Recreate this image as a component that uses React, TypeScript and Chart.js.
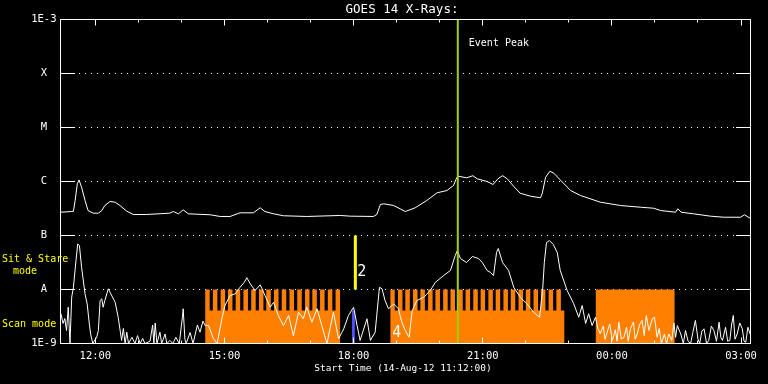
import { useEffect, useRef } from "react";
import { Chart, registerables } from "chart.js";

Chart.register(...registerables);

// ---------- texts ----------
const TITLE = "GOES 14 X-Rays:";
const X_AXIS_TITLE = "Start Time (14-Aug-12 11:12:00)";
const EVENT_LABEL = "Event Peak";
const SIT_STARE_LABEL = ["Sit & Stare", "mode"];
const SCAN_LABEL = "Scan mode";
const MARK_2 = "2";
const MARK_4 = "4";

// ---------- axes ----------
const X_MIN = 11.19; // hours since 14-Aug-12 00:00
const X_MAX = 27.22;
const xTickValues = [12, 15, 18, 21, 24, 27];
const xTickLabels = ["12:00", "15:00", "18:00", "21:00", "00:00", "03:00"];
const hourTickValues = [12, 13, 14, 15, 16, 17, 18, 19, 20, 21, 22, 23, 24, 25, 26, 27];
const yTickValues = [1e-9, 1e-8, 1e-7, 1e-6, 1e-5, 1e-4, 1e-3];
const yTickLabels = ["1E-9", "A", "B", "C", "M", "X", "1E-3"];

// ---------- GOES long channel (1-8 A) ----------
const longTimes = [
  11.2, 11.45, 11.49, 11.53, 11.58, 11.62, 11.68, 11.76, 11.83, 11.95, 12.07, 12.15, 12.22,
  12.34, 12.46, 12.57, 12.73, 12.88, 13.19, 13.73, 13.81, 13.93, 14.04, 14.16, 14.67, 14.9,
  15.13, 15.36, 15.67, 15.83, 15.94, 16.14, 16.37, 16.91, 17.69, 17.92, 18.46, 18.54, 18.62,
  18.7, 18.93, 19.08, 19.2, 19.43, 19.7, 19.94, 20.17, 20.32, 20.4, 20.44, 20.63, 20.77, 20.87,
  21.1, 21.24, 21.35, 21.46, 21.57, 21.72, 21.87, 22.11, 22.34, 22.38, 22.46, 22.56, 22.65,
  22.8, 23.04, 23.27, 23.73, 24.2, 24.66, 24.97, 25.13, 25.48, 25.53, 25.61, 25.9, 26.29,
  26.6, 26.99, 27.08, 27.21,
];
const longFlux = [
  2.7e-7, 2.78e-7, 2.8e-7, 4.45e-7, 9.07e-7, 1.07e-6, 7.84e-7, 4.45e-7, 2.9e-7, 2.59e-7,
  2.59e-7, 2.9e-7, 3.59e-7, 4.26e-7, 4.14e-7, 3.59e-7, 2.82e-7, 2.45e-7, 2.45e-7, 2.59e-7,
  2.78e-7, 2.52e-7, 2.99e-7, 2.52e-7, 2.42e-7, 2.25e-7, 2.25e-7, 2.63e-7, 2.63e-7, 3.26e-7,
  2.78e-7, 2.52e-7, 2.32e-7, 2.25e-7, 2.35e-7, 2.28e-7, 2.25e-7, 2.45e-7, 3.75e-7, 3.86e-7,
  3.59e-7, 3.12e-7, 2.78e-7, 3.26e-7, 4.45e-7, 6.18e-7, 6.81e-7, 8.43e-7, 1.2e-6, 1.25e-6,
  1.17e-6, 1.28e-6, 1.12e-6, 1.0e-6, 8.8e-7, 1.12e-6, 1.28e-6, 1.12e-6, 8.08e-7, 6.07e-7,
  5.34e-7, 4.99e-7, 5.92e-7, 1.2e-6, 1.55e-6, 1.43e-6, 1.07e-6, 6.81e-7, 5.51e-7, 4.14e-7,
  3.59e-7, 3.34e-7, 3.2e-7, 2.9e-7, 2.7e-7, 3.12e-7, 2.7e-7, 2.52e-7, 2.28e-7, 2.18e-7,
  2.18e-7, 2.42e-7, 2.09e-7,
];

// ---------- GOES short channel (0.5-4 A) ----------
const shortTimes = [
  // 11:12 - 12:35
  11.2, 11.25, 11.29, 11.33, 11.37, 11.41, 11.45, 11.49, 11.55, 11.59, 11.63, 11.68, 11.76,
  11.81, 11.86, 11.89, 11.94, 12.03, 12.07, 12.11, 12.15, 12.18, 12.22, 12.3, 12.34, 12.46, 12.53,
  // 12:36 - 14:30
  12.61, 12.65, 12.69, 12.73, 12.77, 12.85, 12.92, 12.98, 13.04, 13.1, 13.15, 13.27, 13.33,
  13.36, 13.39, 13.43, 13.5, 13.54, 13.62, 13.66, 13.73, 13.8, 13.87, 13.95, 14.02, 14.04,
  14.08, 14.11, 14.2, 14.27, 14.37, 14.43, 14.5,
  // 14:33 - 23:40
  14.55, 14.63, 14.74, 14.83, 14.94, 15.01, 15.13, 15.25, 15.36, 15.46,
  15.52, 15.6, 15.71, 15.83, 15.94, 16.06, 16.14, 16.25, 16.37, 16.49,
  16.6, 16.72, 16.83, 16.91, 17.03, 17.15, 17.26, 17.38, 17.53, 17.65,
  17.77, 17.88, 18.0, 18.08, 18.15, 18.31, 18.39, 18.5, 18.6, 18.66,
  18.73, 18.81, 18.93, 19.04, 19.12, 19.2, 19.29, 19.36, 19.47, 19.63,
  19.78, 19.9, 20.09, 20.25, 20.36, 20.41, 20.48, 20.62, 20.76, 20.9,
  20.99, 21.1, 21.18, 21.25, 21.32, 21.36, 21.46, 21.6, 21.72, 21.87,
  22.03, 22.18, 22.32, 22.39, 22.43, 22.48, 22.55, 22.64, 22.73, 22.8,
  22.96, 23.11, 23.23, 23.31, 23.39, 23.46, 23.54, 23.62, 23.67,
  // 23:44 - 03:13
  23.73, 23.8, 23.84, 23.89, 23.95, 24.01, 24.08, 24.12, 24.16, 24.22,
  24.28, 24.34, 24.38, 24.43, 24.5, 24.54, 24.59, 24.64, 24.7, 24.75,
  24.8, 24.86, 24.94, 24.99, 25.05, 25.1, 25.15, 25.22, 25.27, 25.32,
  25.39, 25.44, 25.48, 25.52, 25.6, 25.66, 25.71, 25.77, 25.83, 25.88,
  25.94, 26.0, 26.04, 26.09, 26.14, 26.2, 26.25, 26.31, 26.37, 26.43,
  26.49, 26.53, 26.57, 26.64, 26.69, 26.74, 26.78, 26.82, 26.86, 26.91,
  26.97, 27.03, 27.07, 27.11, 27.16, 27.21,
];
const shortFlux = [
  // 11:12 - 12:35
  3.55e-9, 2.35e-9, 2.9e-9, 1.74e-9, 4.7e-9, 1.0e-9, 7.2e-9, 1.1e-8, 3.45e-8, 7.0e-8, 6.5e-8,
  2.58e-8, 8.3e-9, 5.4e-9, 2.3e-9, 1.5e-9, 1.0e-9, 1.3e-9, 1.74e-9, 6.25e-9, 6.7e-9, 4.7e-9,
  6.25e-9, 1.03e-8, 8.9e-9, 5.8e-9, 3.07e-9,
  // 12:36 - 14:30
  1.14e-9, 1.9e-9, 1.0e-9, 1.62e-9, 1.0e-9, 1.3e-9, 1.0e-9, 1.4e-9, 1.0e-9, 1.24e-9,
  1.0e-9, 1.1e-9, 2.2e-9, 1.0e-9, 2.4e-9, 1.0e-9, 1.62e-9, 1.0e-9, 1.5e-9, 1.0e-9,
  1.14e-9, 1.0e-9, 1.3e-9, 1.0e-9, 3.0e-9, 4.4e-9, 1.2e-9, 1.0e-9, 1.6e-9, 1.0e-9,
  2.2e-9, 1.62e-9, 2.6e-9,
  // 14:33 - 23:40
  2.15e-9, 2.15e-9, 1.24e-9, 1.0e-9, 2.9e-9, 5.05e-9, 7.75e-9, 8.3e-9, 1.1e-8, 1.36e-8,
  1.65e-8, 1.27e-8, 9.6e-9, 1.22e-8, 7.75e-9, 4.7e-9, 5.8e-9, 3.3e-9, 2.15e-9, 3.3e-9,
  1.4e-9, 3.8e-9, 2.87e-9, 4.7e-9, 2.48e-9, 4.4e-9, 2.15e-9, 1.0e-9, 3.8e-9, 1.22e-9,
  1.87e-9, 3.3e-9, 4.7e-9, 2.15e-9, 1.14e-9, 2.87e-9, 1.14e-9, 1.62e-9, 1.1e-8, 1.03e-8,
  6.25e-9, 4.4e-9, 5.4e-9, 4.4e-9, 2.48e-9, 1.74e-9, 1.3e-9, 4.08e-9, 6.25e-9, 7.2e-9,
  9.6e-9, 1.36e-8, 1.81e-8, 2.25e-8, 4.26e-8, 5.27e-8, 3.75e-8, 3.16e-8, 4.08e-8, 3.75e-8,
  3.16e-8, 2.25e-8, 2.07e-8, 1.81e-8, 4.84e-8, 5.74e-8, 3.16e-8, 2.25e-8, 1.1e-8, 7.2e-9,
  5.4e-9, 3.8e-9, 3.07e-9, 9.6e-9, 3.16e-8, 7.4e-8, 8.05e-8, 6.8e-8, 4.84e-8, 2.25e-8,
  9.6e-9, 5.51e-9, 3.07e-9, 5.05e-9, 2.35e-9, 3.55e-9, 2.15e-9, 3.07e-9, 1.9e-9,
  // 23:44 - 03:13
  1.53e-9, 2.1e-9, 1.2e-9, 1.62e-9, 2.3e-9, 1.14e-9, 1.8e-9, 1.1e-9, 2.48e-9, 1.2e-9,
  1.3e-9, 2.0e-9, 1.1e-9, 1.87e-9, 2.5e-9, 1.2e-9, 1.5e-9, 2.2e-9, 2.67e-9, 1.4e-9,
  3.3e-9, 1.74e-9, 2.87e-9, 3.07e-9, 1.3e-9, 1.9e-9, 1.0e-9, 1.5e-9, 1.0e-9, 1.5e-9,
  1.14e-9, 2.4e-9, 1.3e-9, 2.15e-9, 1.5e-9, 1.0e-9, 1.74e-9, 1.1e-9, 1.0e-9, 1.6e-9,
  2.67e-9, 1.2e-9, 1.0e-9, 1.7e-9, 1.87e-9, 1.0e-9, 1.14e-9, 2.1e-9, 1.74e-9, 1.1e-9,
  2.48e-9, 1.3e-9, 1.14e-9, 2.0e-9, 1.1e-9, 1.14e-9, 2.2e-9, 3.3e-9, 1.2e-9, 1.5e-9,
  2.4e-9, 1.87e-9, 1.1e-9, 1.05e-9, 2.0e-9, 1.5e-9,
];

// ---------- observing modes ----------
const scanBlocks = [
  [14.55, 17.69],
  [18.85, 22.9],
];
const scanRasterStarts = [
  14.55, 14.73, 14.91, 15.08, 15.26, 15.44, 15.62, 15.8, 15.97, 16.15, 16.33, 16.51, 16.69,
  16.87, 17.04, 17.22, 17.4, 17.58,
  18.85, 19.03, 19.2, 19.38, 19.55, 19.73, 19.9, 20.08, 20.25, 20.43, 20.6, 20.78, 20.95,
  21.13, 21.3, 21.48, 21.65, 21.83, 22.0, 22.18, 22.35, 22.53, 22.71,
];
const RASTER_DURATION = 0.105;
const RASTER_TOP = 1e-8;
const SCAN_BASE = 4.1e-9;
const sitStareBlock = [23.62, 25.46];
const SIT_STARE_TOP = 1e-8;
const sitStareMarkTime = 18.04;
const sitStareMarkRange = [1e-8, 1e-7];
const blueTimes = [17.96, 18.03];
const BLUE_TOP = 4.1e-9;
const eventPeakTime = 20.42;

const FONT = "'DejaVu Sans Mono', monospace";

function buildOrange() {
  const pts: { x: number; y: number | null }[] = [];
  scanBlocks.forEach(([s, e]) => {
    const teeth = scanRasterStarts.filter((t) => t >= s && t < e);
    teeth.forEach((t) => {
      pts.push({ x: t, y: RASTER_TOP });
      pts.push({ x: t + RASTER_DURATION, y: SCAN_BASE });
    });
    pts.push({ x: e, y: SCAN_BASE });
    pts.push({ x: e + 0.001, y: null });
  });
  pts.push({ x: sitStareBlock[0], y: SIT_STARE_TOP });
  pts.push({ x: sitStareBlock[1], y: SIT_STARE_TOP });
  return pts;
}

const decorPlugin = {
  id: "decor",
  afterDraw(chart: any) {
    const { ctx, chartArea: a, scales } = chart;
    const xs = scales.x;
    const ys = scales.y;
    ctx.save();
    ctx.strokeStyle = "#ffffff";
    ctx.lineWidth = 1;
    ctx.setLineDash([]);
    ctx.strokeRect(a.left, a.top, a.right - a.left, a.bottom - a.top);
    ctx.beginPath();
    yTickValues.forEach((v) => {
      const py = Math.round(ys.getPixelForValue(v) - 0.5) + 0.5;
      ctx.moveTo(a.left, py);
      ctx.lineTo(a.left + 14.5, py);
      ctx.moveTo(a.right - 14.5, py);
      ctx.lineTo(a.right, py);
    });
    hourTickValues.forEach((h) => {
      const px = Math.round(xs.getPixelForValue(h) - 0.5) + 0.5;
      const len = xTickValues.includes(h) ? 6 : 3;
      ctx.moveTo(px, a.top);
      ctx.lineTo(px, a.top + len);
      ctx.moveTo(px, a.bottom);
      ctx.lineTo(px, a.bottom - len);
    });
    ctx.stroke();

    ctx.textBaseline = "middle";
    ctx.fillStyle = "#ffffff";
    ctx.textAlign = "center";
    ctx.font = `12.5px ${FONT}`;
    ctx.fillText(TITLE, 402, 10);
    ctx.font = `9.5px ${FONT}`;
    ctx.fillText(X_AXIS_TITLE, 403, 369);

    ctx.textAlign = "left";
    ctx.font = `10px ${FONT}`;
    ctx.fillText(EVENT_LABEL, xs.getPixelForValue(eventPeakTime) + 11, 43);

    ctx.font = `15px ${FONT}`;
    ctx.fillText(MARK_2, xs.getPixelForValue(sitStareMarkTime) + 2, ys.getPixelForValue(RASTER_TOP) - 17);
    ctx.fillText(MARK_4, xs.getPixelForValue(scanBlocks[1][0]) + 2, a.bottom - 10);

    ctx.fillStyle = "#ffff00";
    ctx.font = `10px ${FONT}`;
    ctx.fillText(SIT_STARE_LABEL[0], 2, 259);
    ctx.fillText(SIT_STARE_LABEL[1], 13, 271);
    ctx.fillText(SCAN_LABEL, 2, 324);
    ctx.restore();
  },
};

export default function App() {
  const ref = useRef<HTMLCanvasElement>(null);
  useEffect(() => {
    if (!ref.current) return;
    const chart = new Chart(ref.current, {
      type: "line",
      data: {
        datasets: [
          {
            label: "event peak",
            data: [
              { x: eventPeakTime, y: yTickValues[0] },
              { x: eventPeakTime, y: yTickValues[yTickValues.length - 1] },
            ],
            borderColor: "#a0d000",
            borderWidth: 2,
            pointRadius: 0,
            order: 1,
          },
          {
            label: "sit & stare mark",
            data: [
              { x: sitStareMarkTime, y: sitStareMarkRange[0] },
              { x: sitStareMarkTime, y: sitStareMarkRange[1] },
            ],
            borderColor: "#ffff00",
            borderWidth: 3,
            pointRadius: 0,
            order: 2,
          },
          {
            label: "1-8 A",
            data: longTimes.map((t, i) => ({ x: t, y: longFlux[i] })),
            borderColor: "#ffffff",
            borderWidth: 1,
            pointRadius: 0,
            tension: 0,
            order: 3,
          },
          {
            label: "0.5-4 A",
            data: shortTimes.map((t, i) => ({ x: t, y: shortFlux[i] })),
            borderColor: "#ffffff",
            borderWidth: 1,
            pointRadius: 0,
            tension: 0,
            order: 4,
          },
          {
            label: "blue",
            data: blueTimes.map((t) => ({ x: t, y: BLUE_TOP })),
            borderColor: "rgba(0,0,0,0)",
            borderWidth: 0,
            backgroundColor: "#5050ff",
            fill: "start",
            stepped: true,
            pointRadius: 0,
            order: 5,
          },
          {
            label: "observing modes",
            data: buildOrange(),
            borderColor: "rgba(0,0,0,0)",
            borderWidth: 0,
            backgroundColor: "#ff8000",
            fill: "start",
            stepped: true,
            spanGaps: false,
            pointRadius: 0,
            order: 6,
          },
        ] as any,
      },
      options: {
        responsive: false,
        maintainAspectRatio: false,
        devicePixelRatio: 1,
        animation: false,
        events: [],
        layout: { padding: { left: 0, top: 19.5, right: 17.5, bottom: 0 } },
        plugins: {
          legend: { display: false },
          tooltip: { enabled: false },
          title: { display: false },
        },
        scales: {
          x: {
            type: "linear",
            min: X_MIN,
            max: X_MAX,
            afterBuildTicks: (s: any) => {
              s.ticks = xTickValues.map((v) => ({ value: v }));
            },
            afterFit: (s: any) => {
              s.height = 40.5;
            },
            ticks: {
              autoSkip: false,
              maxRotation: 0,
              padding: 6,
              color: "#ffffff",
              font: { family: FONT, size: 10.5 },
              callback: (v: any) => xTickLabels[xTickValues.indexOf(Number(v))] ?? "",
            },
            grid: { display: false, drawTicks: false },
            border: { display: false },
          },
          y: {
            type: "logarithmic",
            min: 1e-9,
            max: 1e-3,
            afterBuildTicks: (s: any) => {
              s.ticks = yTickValues.map((v) => ({ value: v }));
            },
            afterFit: (s: any) => {
              s.width = 60.5;
            },
            ticks: {
              autoSkip: false,
              padding: 4,
              crossAlign: "center",
              color: "#ffffff",
              font: { family: FONT, size: 10.5 },
              callback: (v: any) => {
                const i = yTickValues.findIndex((t) => Math.abs(Math.log10(t) - Math.log10(Number(v))) < 1e-6);
                return i >= 0 ? yTickLabels[i] : "";
              },
            },
            grid: { color: "#ffffff", lineWidth: 1, drawTicks: false },
            border: { display: false, dash: [1, 5] },
          },
        },
      } as any,
      plugins: [decorPlugin],
    });
    return () => chart.destroy();
  }, []);

  return (
    <div style={{ position: "absolute", left: 0, top: 0, width: 768, height: 384, background: "#000" }}>
      <canvas ref={ref} width={768} height={384} style={{ display: "block", width: 768, height: 384 }} />
    </div>
  );
}
